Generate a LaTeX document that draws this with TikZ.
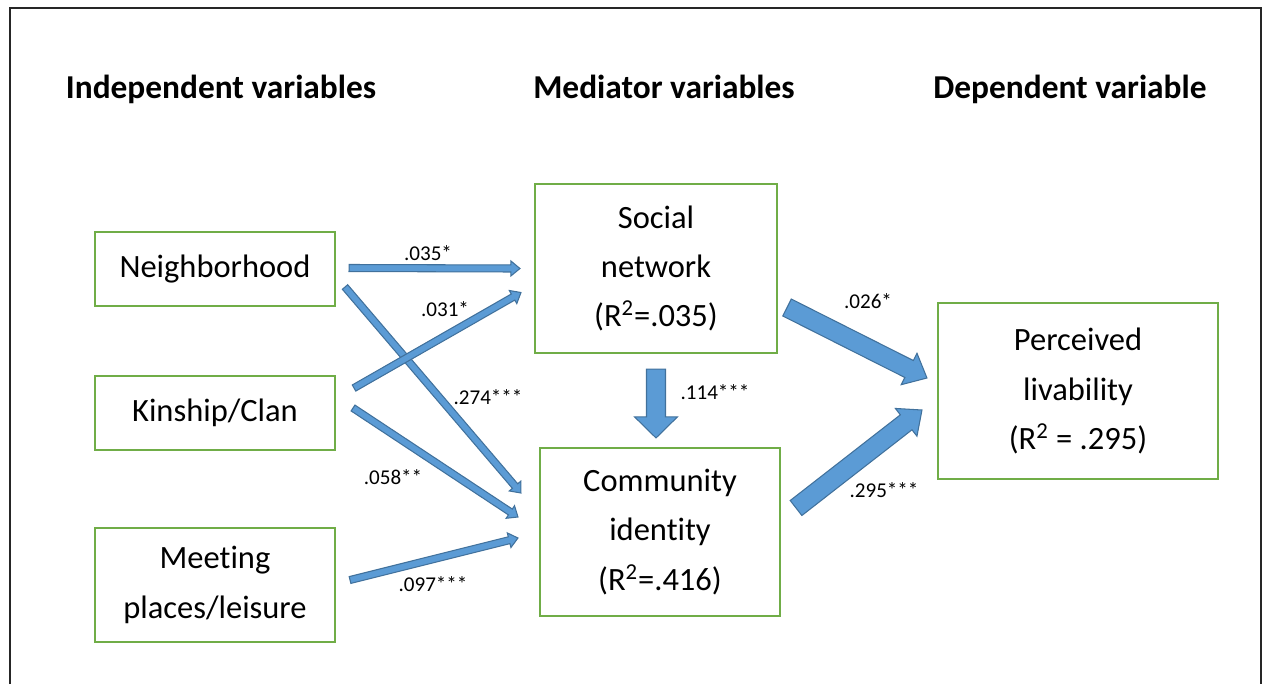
\documentclass[tikz,border=0pt]{standalone}
\usepackage{fontspec}
\setmainfont{Carlito}[Ligatures=NoCommon]
\usetikzlibrary{calc}

\definecolor{boxgreen}{HTML}{70AD47}
\definecolor{arrfill}{HTML}{5B9BD5}
\definecolor{arrline}{HTML}{41719C}

\tikzset{
  varbox/.style={draw=boxgreen, line width=1.2pt, align=center, inner sep=0pt,
    font=\fontsize{18.5}{28}\selectfont},
  header/.style={anchor=base, font=\fontsize{19}{23}\selectfont\bfseries},
  coef/.style={font=\fontsize{12}{14}\selectfont},
  blockarrow/.style={fill=arrfill, draw=arrline, line width=0.6pt, line join=miter},
}

% block arrow: from, to, shaft half width, head half width, head length, name
\newcommand{\blockarr}[6]{%
  \coordinate (#6h) at ($(#2)!#5!(#1)$);
  \draw[blockarrow] ($(#1)!#3!90:(#2)$) -- ($(#6h)!#3!90:(#2)$) -- ($(#6h)!#4!90:(#2)$)
    -- (#2) -- ($(#6h)!#4!-90:(#2)$) -- ($(#6h)!#3!-90:(#2)$) -- ($(#1)!#3!-90:(#2)$) -- cycle;
}

\begin{document}
\begin{tikzpicture}[x=0.02cm, y=-0.02cm]
\useasboundingbox (0,0) rectangle (1264,684);

% frame (bottom edge is cut off)
\draw[line width=1.1pt, black!85] (10,684) -- (10,8) -- (1261,8) -- (1261,684);

% column headers
\node[header] (hInd) at (221,98) {Independent variables};
\node[header] (hMed) at (664,98) {Mediator variables};
\node[header] (hDep) at (1070,98) {Dependent variable};

% independent variables
\node[varbox, minimum width=4.8cm, minimum height=1.48cm] (nb) at (215,269) {Neighborhood};
\node[varbox, minimum width=4.8cm, minimum height=1.48cm] (kc) at (215,413) {Kinship/Clan};
\node[varbox, minimum width=4.8cm, minimum height=2.28cm] (mp) at (215,585) {Meeting\\places/leisure};

% mediators
\node[varbox, minimum width=4.84cm, minimum height=3.38cm] (sn) at (656,268.5)
  {Social\\network\\(R\textsuperscript{2}=.035)};
\node[varbox, minimum width=4.8cm, minimum height=3.36cm] (ci) at (660,532)
  {Community\\identity\\(R\textsuperscript{2}=.416)};

% dependent variable
\node[varbox, minimum width=5.6cm, minimum height=3.52cm] (pl) at (1078,391)
  {Perceived\\livability\\(R\textsuperscript{2} = .295)};

% arrow end points
\coordinate (a1s) at ([shift={(13,-1)}]nb.east);
\coordinate (a1e) at ([shift={(-14,0)}]sn.west);
\coordinate (a2s) at ([shift={(9,18)}]nb.east);
\coordinate (a2e) at ([shift={(-18,-39)}]ci.west);
\coordinate (a3s) at ([shift={(18,-25)}]kc.east);
\coordinate (a3e) at ([shift={(-13,24)}]sn.west);
\coordinate (a4s) at ([shift={(17,-5)}]kc.east);
\coordinate (a4e) at ([shift={(-21,-15)}]ci.west);
\coordinate (a5s) at ([shift={(14,-5)}]mp.east);
\coordinate (a5e) at ([shift={(-21,6)}]ci.west);
\coordinate (dws) at ([shift={(0,15)}]sn.south);
\coordinate (dwe) at ([shift={(-4,-9)}]ci.north);
\coordinate (f1s) at ([shift={(9,39)}]sn.east);
\coordinate (f1e) at ([shift={(-10,-13)}]pl.west);
\coordinate (f2s) at ([shift={(15,-24)}]ci.east);
\coordinate (f2e) at ([shift={(-15,19)}]pl.west);

% thin paths
\blockarr{a1s}{a1e}{2pt}{4.3pt}{5.2pt}{a1}
\blockarr{a2s}{a2e}{2pt}{4.3pt}{5.2pt}{a2}
\blockarr{a3s}{a3e}{2pt}{4.3pt}{5.2pt}{a3}
\blockarr{a4s}{a4e}{2pt}{4.3pt}{5.2pt}{a4}
\blockarr{a5s}{a5e}{2pt}{4.3pt}{5.2pt}{a5}

% thick paths
\blockarr{dws}{dwe}{5.4pt}{12.2pt}{12pt}{dw}
\blockarr{f1s}{f1e}{5.4pt}{10pt}{11.4pt}{f1}
\blockarr{f2s}{f2e}{5.4pt}{10pt}{11.4pt}{f2}

% path coefficients
\node[coef] (c1) at (428,253) {.035*};
\node[coef] (c2) at (445,309) {.031*};
\node[coef] (c3) at (488,397) {.274***};
\node[coef] (c4) at (393,477) {.058**};
\node[coef] (c5) at (433,584) {.097***};
\node[coef] (c6) at (715,392) {.114***};
\node[coef] (c7) at (868,301) {.026*};
\node[coef] (c8) at (884,490) {.295***};
\end{tikzpicture}
\end{document}
